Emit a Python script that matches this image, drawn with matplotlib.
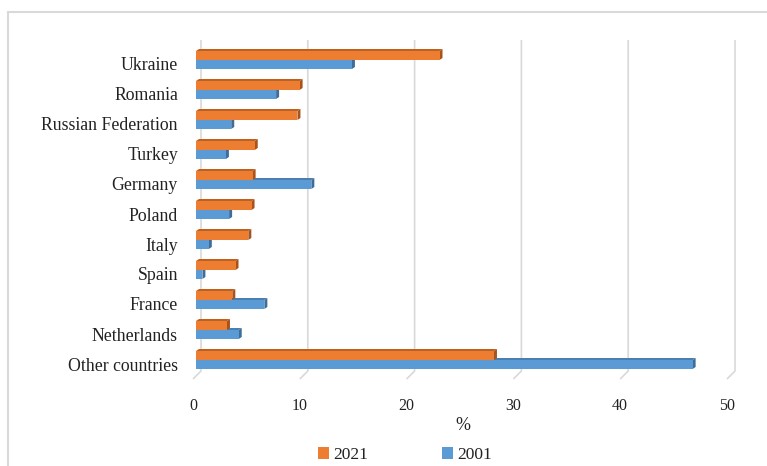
import matplotlib
matplotlib.use("Agg")
import matplotlib.pyplot as plt
import matplotlib.transforms as mtransforms
from matplotlib.patches import Polygon, Patch
from matplotlib.lines import Line2D

countries = ["Ukraine", "Romania", "Russian Federation", "Turkey", "Germany",
             "Poland", "Italy", "Spain", "France", "Netherlands", "Other countries"]
share_2021 = [22.8, 9.7, 9.5, 5.5, 5.3, 5.2, 4.9, 3.7, 3.4, 2.9, 27.9]
share_2001 = [14.6, 7.5, 3.3, 2.8, 10.8, 3.1, 1.2, 0.6, 6.4, 4.0, 46.5]
x_ticks = [0, 10, 20, 30, 40, 50]
series_labels = ["2021", "2001"]

plt.rcParams['font.family'] = ['Liberation Serif', 'DejaVu Serif']
plt.rcParams['font.size'] = 11

W, H, DPI = 767, 466, 100
fig = plt.figure(figsize=(W / DPI, H / DPI), dpi=DPI)

# plot area in pixel units
x0px, x1px = 196, 730
ytop_px, ybot_px = 40, 379
row_px, first_center = 30, 60
ax = fig.add_axes([x0px / W, 1 - ybot_px / H, (x1px - x0px) / W, (ybot_px - ytop_px) / H])
ax.set_xlim(0, 50)
y_lo = (ybot_px - first_center) / row_px
y_hi = (ytop_px - first_center) / row_px
ax.set_ylim(y_lo, y_hi)
for s in ax.spines.values():
    s.set_visible(False)

ppu = (x1px - x0px) / 50.0     # pixels per x unit
dx = 3 / ppu                   # depth offset of the 3-D faces
dy = 2 / row_px
back = 5 / ppu
front = -3 / ppu
floor_back = (371 - first_center) / row_px

# back-wall gridlines with slanted floor segment
for v in x_ticks:
    ax.plot([v + back, v + back, v + front], [y_hi, floor_back, y_lo],
            color='#d9d9d9', lw=1.2, clip_on=False, zorder=1,
            solid_capstyle='butt')

h = 0.3
ypos = list(range(len(countries)))

def bar3d(vals, offset, front_c, top_c, side_c, z):
    ax.barh([y + offset for y in ypos], vals, height=h, color=front_c,
            zorder=z + 0.5, linewidth=0)
    for y, v in zip(ypos, vals):
        yt = y + offset - h / 2
        yb = y + offset + h / 2
        ax.add_patch(Polygon([(0, yt), (v, yt), (v + dx, yt - dy), (dx, yt - dy)],
                             closed=True, facecolor=top_c, edgecolor='none', zorder=z))
        ax.add_patch(Polygon([(v, yt), (v, yb), (v + dx, yb - dy), (v + dx, yt - dy)],
                             closed=True, facecolor=side_c, edgecolor='none', zorder=z))

bar3d(share_2001, h / 2, '#5b9bd5', '#4a7fb0', '#3f6d99', 2)
bar3d(share_2021, -h / 2, '#ed7d31', '#c0601f', '#a9531b', 3)

ax.set_yticks(ypos)
ax.set_yticklabels(countries)
ax.set_xticks(x_ticks)
ax.set_xticklabels([str(v) for v in x_ticks])
ax.tick_params(axis='both', length=0, colors='#222222')
ax.tick_params(axis='y', pad=13, labelsize=12.8)
ax.tick_params(axis='x', pad=14, labelsize=11.5)
for lab in ax.get_xticklabels():
    lab.set_transform(lab.get_transform() +
                      mtransforms.ScaledTranslation(-3 / DPI, 0, fig.dpi_scale_trans))
for lab in ax.get_yticklabels():
    lab.set_transform(lab.get_transform() +
                      mtransforms.ScaledTranslation(0, -4 / DPI, fig.dpi_scale_trans))

ax.set_xlabel('%', fontsize=13, labelpad=2, color='#222222')

handles = [Patch(facecolor='#ed7d31', edgecolor='none'),
           Patch(facecolor='#5b9bd5', edgecolor='none')]
fig.legend(handles, series_labels, loc='center', bbox_to_anchor=(405 / W, 1 - 455 / H),
           ncol=2, frameon=False, handlelength=0.62, handleheight=0.62,
           handletextpad=0.25, columnspacing=4.3, fontsize=12.5,
           labelcolor='#222222')

# chart frame
fig.add_artist(Line2D([8 / W, 8 / W], [0, 1 - 12 / H], transform=fig.transFigure,
                      color='#d9d9d9', lw=1.5))
fig.add_artist(Line2D([8 / W, 1], [1 - 12 / H, 1 - 12 / H], transform=fig.transFigure,
                      color='#d9d9d9', lw=1.5))

fig.savefig('out.png', dpi=DPI, facecolor='white')
